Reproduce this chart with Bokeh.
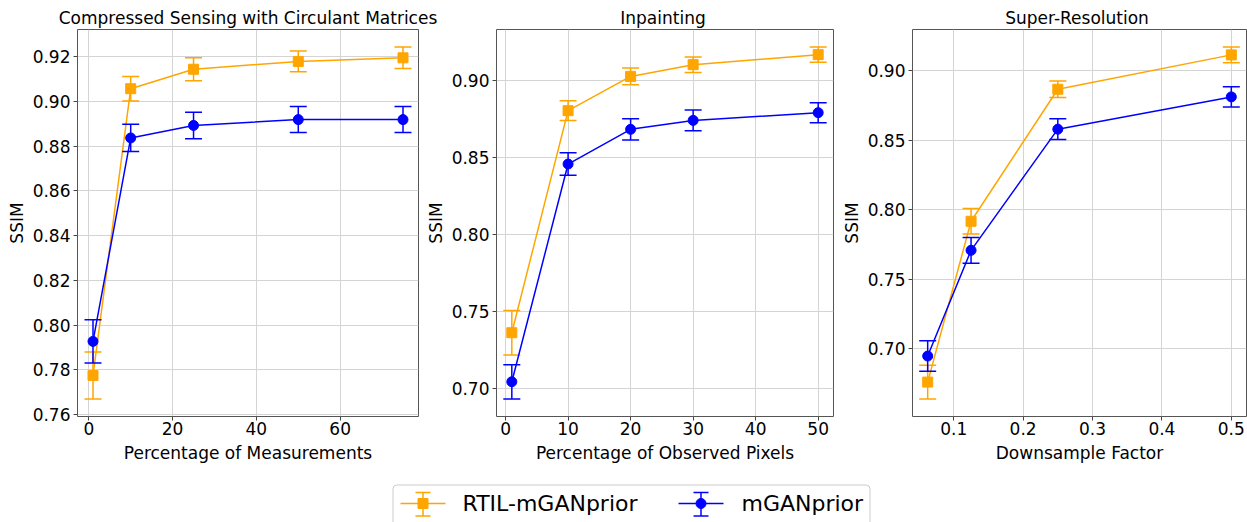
from bokeh.plotting import figure
from bokeh.layouts import row, column
from bokeh.models import Range1d, FixedTicker, NumeralTickFormatter
from bokeh.core.properties import value
from bokeh.embed import file_html
from bokeh.resources import INLINE

FONT = "DejaVu Sans"
ORANGE = "#FFA500"
BLUE = "#0000FF"

series_names = ["RTIL-mGANprior", "mGANprior"]

# Panel 1: Compressed Sensing with Circulant Matrices
cs_x = [1, 10, 25, 50, 75]
cs_rtil = [0.7775, 0.9056, 0.9143, 0.9178, 0.9194]
cs_rtil_err = [0.0105, 0.0055, 0.0051, 0.0046, 0.0048]
cs_mgan = [0.7927, 0.8836, 0.8892, 0.8918, 0.8918]
cs_mgan_err = [0.0097, 0.0061, 0.0059, 0.0058, 0.0058]

# Panel 2: Inpainting
ip_x = [1, 10, 20, 30, 50]
ip_rtil = [0.7363, 0.8802, 0.9024, 0.9100, 0.9165]
ip_rtil_err = [0.0144, 0.0064, 0.0054, 0.0050, 0.0049]
ip_mgan = [0.7045, 0.8456, 0.8681, 0.8739, 0.8789]
ip_mgan_err = [0.0111, 0.0073, 0.0069, 0.0067, 0.0065]

# Panel 3: Super-Resolution
sr_x = [0.0625, 0.125, 0.25, 0.5]
sr_rtil = [0.6760, 0.7916, 0.8865, 0.9112]
sr_rtil_err = [0.0121, 0.0091, 0.0060, 0.0056]
sr_mgan = [0.6947, 0.7707, 0.8578, 0.8810]
sr_mgan_err = [0.0110, 0.0093, 0.0075, 0.0073]

titles = ["Compressed Sensing with Circulant Matrices", "Inpainting", "Super-Resolution"]
xlabels = ["Percentage of Measurements", "Percentage of Observed Pixels", "Downsample Factor"]
ylabel = "SSIM"

cs_xticks = [0, 20, 40, 60]
cs_yticks = [0.76, 0.78, 0.80, 0.82, 0.84, 0.86, 0.88, 0.90, 0.92]
ip_xticks = [0, 10, 20, 30, 40, 50]
ip_yticks = [0.70, 0.75, 0.80, 0.85, 0.90]
sr_xticks = [0.1, 0.2, 0.3, 0.4, 0.5]
sr_yticks = [0.70, 0.75, 0.80, 0.85, 0.90]

TITLE_H = 28
PANEL_H = 442
LEGEND_H = 52
TOTAL_W = 1247
# (figure width, min_border_left, min_border_right)
panel_geom = [(422, 77, 4), (416, 70, 5), (409, 69, 1)]


def padded(lo, hi, frac=0.05):
    d = hi - lo
    return lo - frac * d, hi + frac * d


def make_panel(xlab, xs, s1, e1, s2, e2, xticks, yticks, xfmt, geom):
    width, left, right = geom
    x0, x1 = padded(min(xs), max(xs))
    lows = [v - e for v, e in zip(s1, e1)] + [v - e for v, e in zip(s2, e2)]
    highs = [v + e for v, e in zip(s1, e1)] + [v + e for v, e in zip(s2, e2)]
    y0, y1 = padded(min(lows), max(highs))
    p = figure(width=width, height=PANEL_H, output_backend="svg", toolbar_location=None,
               x_range=Range1d(x0, x1), y_range=Range1d(y0, y1),
               min_border_left=left, min_border_right=right, min_border_top=1,
               min_border_bottom=54)
    p.outline_line_color = "#555555"
    p.outline_line_width = 1
    p.background_fill_color = "white"
    p.border_fill_color = "white"
    for ax in (p.xaxis[0], p.yaxis[0]):
        ax.axis_line_color = None
        ax.major_tick_line_color = "#444444"
        ax.major_tick_out = 4
        ax.major_tick_in = 0
        ax.minor_tick_line_color = None
        ax.major_label_text_font = FONT
        ax.major_label_text_font_size = "17px"
        ax.major_label_text_color = "black"
        ax.axis_label_text_font = FONT
        ax.axis_label_text_font_size = "17px"
        ax.axis_label_text_font_style = "normal"
        ax.axis_label_text_color = "black"
    p.xaxis[0].ticker = FixedTicker(ticks=xticks)
    p.yaxis[0].ticker = FixedTicker(ticks=yticks)
    p.xaxis[0].formatter = NumeralTickFormatter(format=xfmt)
    p.yaxis[0].formatter = NumeralTickFormatter(format="0.00")
    p.xaxis[0].axis_label = xlab
    p.yaxis[0].axis_label = ylabel
    p.xaxis[0].major_label_standoff = 1
    p.yaxis[0].major_label_standoff = 3
    p.xaxis[0].axis_label_standoff = 5
    p.yaxis[0].axis_label_standoff = 3
    p.xgrid.grid_line_color = "#d4d4d4"
    p.ygrid.grid_line_color = "#d4d4d4"
    p.xgrid.grid_line_width = 1
    p.ygrid.grid_line_width = 1

    for ys, es, col, mk in ((s1, e1, ORANGE, "square"), (s2, e2, BLUE, "circle")):
        up = [v + e for v, e in zip(ys, es)]
        lo = [v - e for v, e in zip(ys, es)]
        p.segment(x0=xs, y0=lo, x1=xs, y1=up, line_color=col, line_width=1.5)
        p.scatter(x=xs, y=up, marker="dash", size=17, line_color=col, line_width=1.5)
        p.scatter(x=xs, y=lo, marker="dash", size=17, line_color=col, line_width=1.5)
        p.line(x=xs, y=ys, line_color=col, line_width=1.5)
        p.scatter(x=xs, y=ys, marker=mk, size=10, fill_color=col, line_color=col)
    return p


p1 = make_panel(xlabels[0], cs_x, cs_rtil, cs_rtil_err, cs_mgan, cs_mgan_err,
                cs_xticks, cs_yticks, "0", panel_geom[0])
p2 = make_panel(xlabels[1], ip_x, ip_rtil, ip_rtil_err, ip_mgan, ip_mgan_err,
                ip_xticks, ip_yticks, "0", panel_geom[1])
p3 = make_panel(xlabels[2], sr_x, sr_rtil, sr_rtil_err, sr_mgan, sr_mgan_err,
                sr_xticks, sr_yticks, "0.0", panel_geom[2])

# Title strip (coordinates in strip pixels); titles centred over each plot frame
ts = figure(width=TOTAL_W, height=TITLE_H, output_backend="svg", toolbar_location=None,
            x_range=Range1d(0, TOTAL_W), y_range=Range1d(TITLE_H, 0), min_border=0)
ts.axis.visible = False
ts.grid.visible = False
ts.outline_line_color = None
centers = []
off = 0
for w, l, r in panel_geom:
    centers.append(off + l + (w - l - r) / 2)
    off += w
ts.text(x=centers, y=[17] * 3, text=titles, text_font=value(FONT), text_font_size="17px",
        text_baseline="middle", text_align="center", text_color="black")

# Legend strip (coordinates in strip pixels)
lg = figure(width=TOTAL_W, height=LEGEND_H, output_backend="svg", toolbar_location=None,
            x_range=Range1d(0, TOTAL_W), y_range=Range1d(LEGEND_H, 0), min_border=0)
lg.axis.visible = False
lg.grid.visible = False
lg.outline_line_color = None
lg.quad(left=[392.5], right=[869.5], top=[14.5], bottom=[70], fill_color="white",
        line_color="#cccccc", line_width=1, border_radius=4)
entries = [(series_names[0], ORANGE, "square", 422.5, 462), (series_names[1], BLUE, "circle", 700.5, 741)]
for name, col, mk, cx, tx in entries:
    lg.segment(x0=[cx - 22.5], y0=[33], x1=[cx + 22.5], y1=[33], line_color=col, line_width=1.5)
    lg.segment(x0=[cx], y0=[22], x1=[cx], y1=[45.5], line_color=col, line_width=1.5)
    lg.scatter(x=[cx, cx], y=[22, 45.5], marker="dash", size=15, line_color=col, line_width=1.5)
    lg.scatter(x=[cx], y=[33], marker=mk, size=10, fill_color=col, line_color=col)
    lg.text(x=[tx], y=[33], text=[name], text_font=value(FONT), text_font_size="22px",
            text_baseline="middle", text_align="left", text_color="black")

layout = column(ts, row(p1, p2, p3), lg)
open("out.html", "w").write(file_html(layout, INLINE))
